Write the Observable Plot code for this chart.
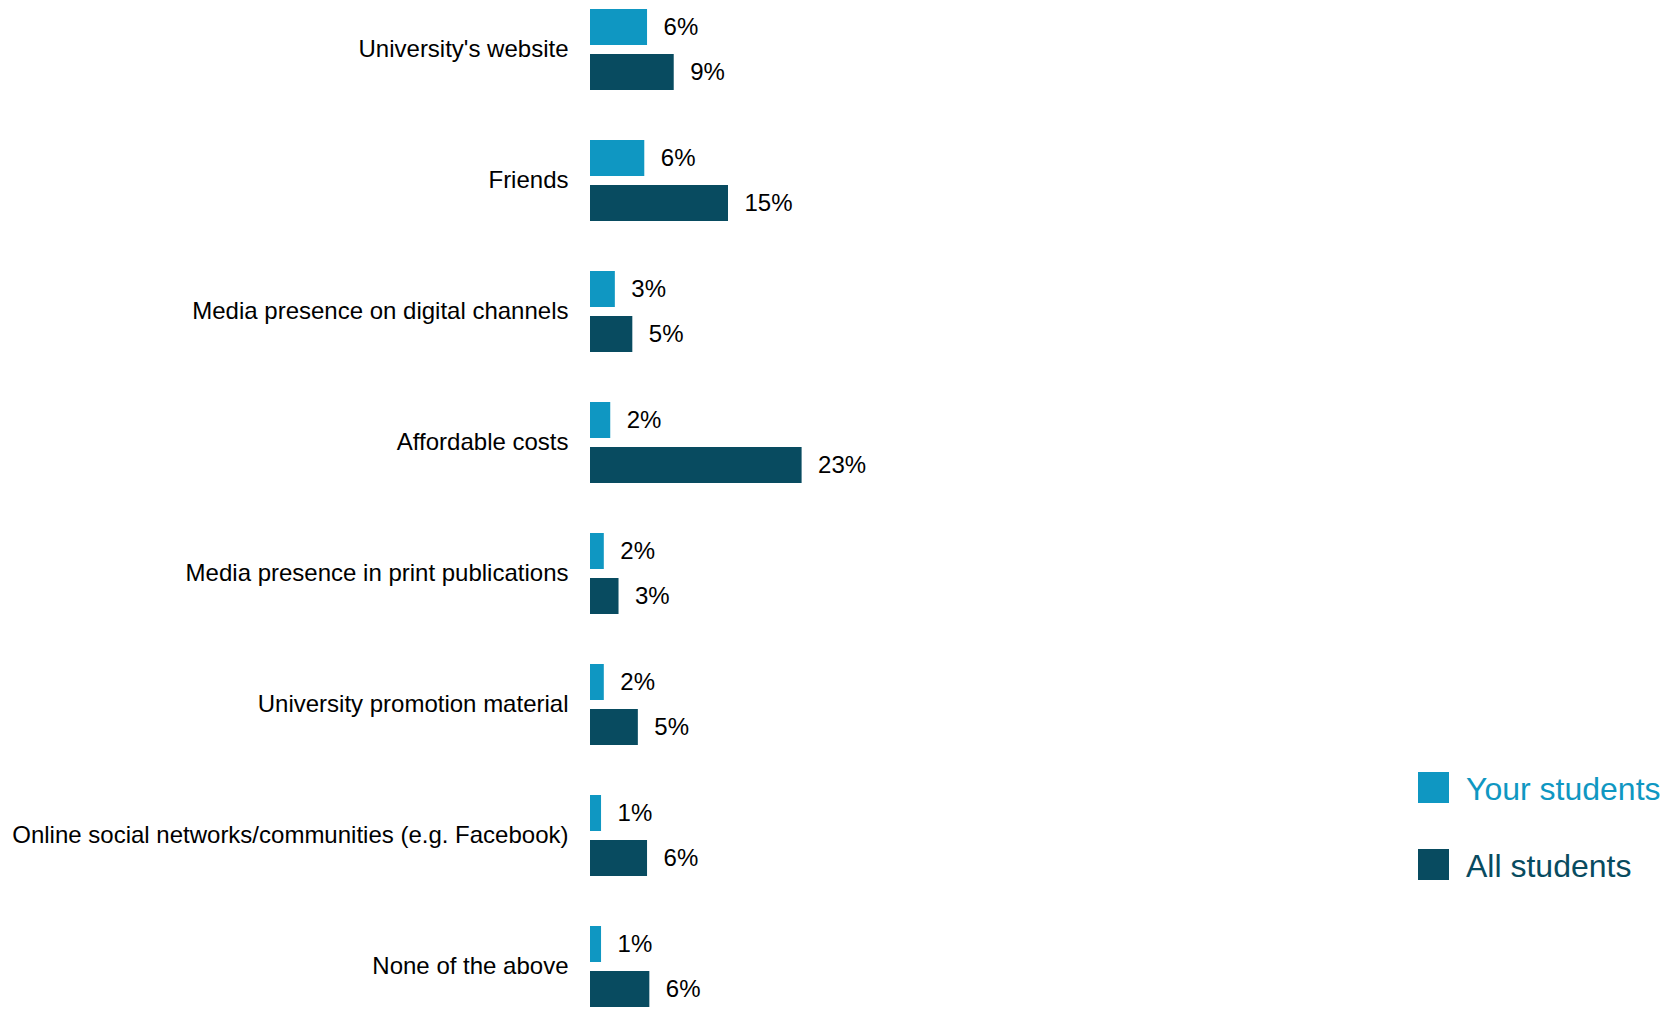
<!DOCTYPE html>
<html>
<head>
<meta charset="utf-8">
<script src="https://cdn.jsdelivr.net/npm/d3@7"></script>
<script src="https://cdn.jsdelivr.net/npm/@observablehq/plot@0.6"></script>
<style>
  html, body { margin: 0; padding: 0; background: #fff; overflow: hidden; width: 1672px; height: 1009px; }
  body { position: relative; font-family: "Liberation Sans", Arial, sans-serif; }
  #legend { position: absolute; left: 1418px; top: 772px; }
  .item { display: flex; align-items: center; height: 31px; margin-bottom: 46px; }
  .sw { width: 31px; height: 31px; margin-right: 17px; }
  .lab { font-size: 32px; white-space: nowrap; position: relative; top: 2px; }
</style>
</head>
<body>
<div id="chart"></div>
<div id="legend"></div>
<script>
const categories = [
  "University's website",
  "Friends",
  "Media presence on digital channels",
  "Affordable costs",
  "Media presence in print publications",
  "University promotion material",
  "Online social networks/communities (e.g. Facebook)",
  "None of the above"
];
const seriesNames = ["Your students", "All students"];
const seriesColors = ["#0f97c2", "#084b60"];
const yourStudents = [6.2, 5.9, 2.7, 2.2, 1.5, 1.5, 1.2, 1.2];
const allStudents = [9.1, 15.0, 4.6, 23.0, 3.1, 5.2, 6.2, 6.45];

const data = [];
categories.forEach((c, i) => {
  data.push({category: c, series: seriesNames[0], value: yourStudents[i]});
  data.push({category: c, series: seriesNames[1], value: allStudents[i]});
});

const chart = Plot.plot({
  width: 1672,
  height: 1009,
  marginLeft: 590,
  marginRight: 162,
  marginTop: 6,
  marginBottom: 0,
  style: {fontFamily: '"Liberation Sans", Arial, sans-serif', background: "#fff", color: "#000"},
  x: {domain: [0, 100], axis: null},
  y: {domain: seriesNames, paddingInner: 0.2, paddingOuter: 0, axis: null},
  fy: {domain: categories, paddingInner: 0.377, paddingOuter: 0, axis: null},
  color: {domain: seriesNames, range: seriesColors},
  marks: [
    Plot.barX(data, {x: "value", y: "series", fy: "category", fill: "series"}),
    Plot.text(data, {x: "value", y: "series", fy: "category", text: d => Math.round(d.value) + "%", dx: 16, textAnchor: "start", fontSize: 24, fill: "#000"}),
    Plot.axisFy({anchor: "left", tickSize: 0, tickPadding: 22, fontSize: 24, label: null, color: "#000"})
  ]
});
document.getElementById("chart").appendChild(chart);

const legend = document.getElementById("legend");
seriesNames.forEach((s, i) => {
  const item = document.createElement("div");
  item.className = "item";
  const sw = document.createElement("div");
  sw.className = "sw";
  sw.style.background = seriesColors[i];
  const lab = document.createElement("div");
  lab.className = "lab";
  lab.style.color = seriesColors[i];
  lab.textContent = s;
  item.appendChild(sw);
  item.appendChild(lab);
  legend.appendChild(item);
});
</script>
</body>
</html>
